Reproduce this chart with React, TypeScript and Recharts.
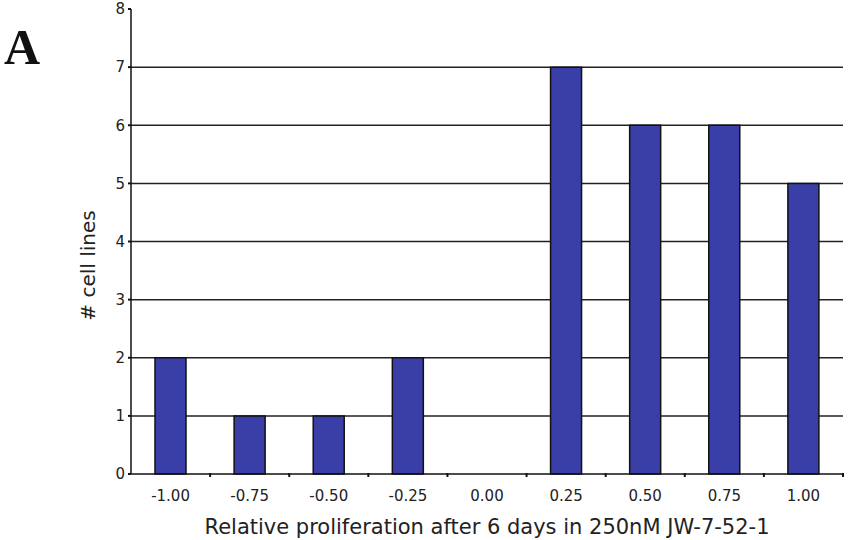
import React from 'react';
import { BarChart, Bar, XAxis, YAxis, CartesianGrid } from 'recharts';

const categories = ['-1.00', '-0.75', '-0.50', '-0.25', '0.00', '0.25', '0.50', '0.75', '1.00'];
const cellLines = [2, 1, 1, 2, 0, 7, 6, 6, 5];
const yTicks = [0, 1, 2, 3, 4, 5, 6, 7, 8];
const gridValues = [1, 2, 3, 4, 5, 6, 7];

const font = 'Verdana, "DejaVu Sans", sans-serif';

// category label plus a small tick mark on the boundary to the right of the band
const CategoryTick = (props: any) => {
  const { x, y, payload } = props;
  const half = payload?.offset ?? 0;
  return (
    <g>
      <line x1={x + half} x2={x + half} y1={y - 18} y2={y - 14} stroke="#111" strokeWidth={2} />
      <text x={x} y={y} dy={10} textAnchor="middle" fontSize={15} fill="#222" fontFamily={font}>
        {payload.value}
      </text>
    </g>
  );
};

const App: React.FC = () => {
  const data = categories.map((c, i) => ({ name: c, value: cellLines[i] }));

  return (
    <div style={{ position: 'absolute', left: 0, top: 0, width: 850, height: 540, background: '#fff' }}>
      <div
        style={{
          position: 'absolute',
          left: 4,
          top: 18,
          fontFamily: '"Liberation Serif", "DejaVu Serif", serif',
          fontWeight: 'bold',
          fontSize: 50,
          color: '#111',
        }}
      >
        A
      </div>
      <BarChart width={850} height={540} data={data} margin={{ top: 9, right: 7, bottom: 0, left: 0 }}>
        <CartesianGrid horizontal vertical={false} horizontalValues={gridValues} stroke="#222" strokeWidth={1.5} />
        <XAxis
          dataKey="name"
          axisLine={{ stroke: '#111', strokeWidth: 1.5 }}
          tickLine={false}
          tick={<CategoryTick />}
          tickMargin={11}
          height={66}
          label={{
            value: 'Relative proliferation after 6 days in 250nM JW-7-52-1',
            position: 'insideBottom',
            offset: 6,
            style: { fontSize: 21, fill: '#222', fontFamily: font },
          }}
        />
        <YAxis
          domain={[0, 8]}
          ticks={yTicks}
          interval={0}
          width={131}
          axisLine={{ stroke: '#111', strokeWidth: 1.5 }}
          tickLine={{ stroke: '#111', strokeWidth: 2 }}
          tickSize={3}
          tickMargin={3}
          tick={{ fontSize: 15, fill: '#222', fontFamily: font }}
          label={{
            value: '# cell lines',
            angle: -90,
            position: 'insideLeft',
            offset: 88,
            dy: 24,
            style: { fontSize: 20, fill: '#222', fontFamily: font, textAnchor: 'middle' },
          }}
        />
        <Bar dataKey="value" fill="#3a3fa8" stroke="#111" strokeWidth={1.5} barSize={31} isAnimationActive={false} />
      </BarChart>
    </div>
  );
};

export default App;
